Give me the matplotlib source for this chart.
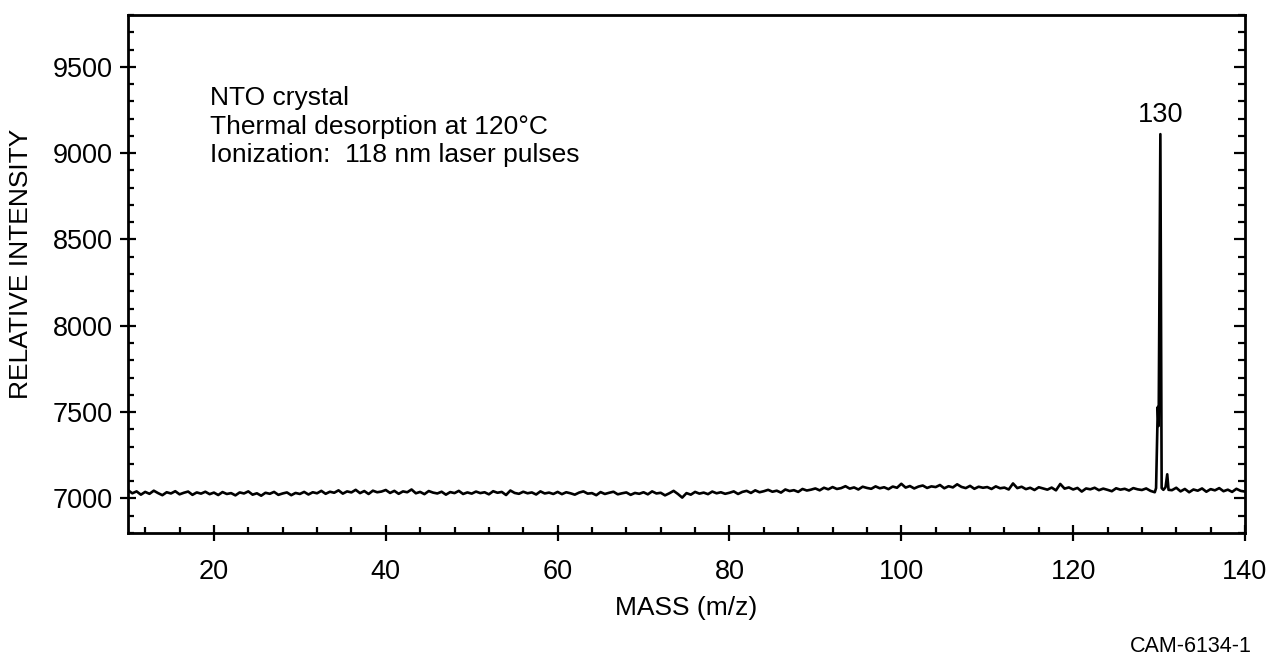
import matplotlib
matplotlib.use("Agg")
import matplotlib.pyplot as plt
from matplotlib.ticker import MultipleLocator
import numpy as np

plt.rcParams['font.family'] = ['Liberation Sans', 'DejaVu Sans']

# baseline trace at 0.5 m/z steps (10 .. 129.5)
mass_lo = np.arange(10, 130, 0.5)
inten_lo = [
    7048, 7030, 7041, 7022, 7038, 7027, 7045, 7031, 7019, 7036, 7029, 7042, 7024, 7033, 7040, 7021, 7035, 7028, 7039, 7025,
    7034, 7020, 7037, 7026, 7031, 7018, 7035, 7029, 7041, 7022, 7030, 7016, 7033, 7027, 7038, 7021, 7029, 7035, 7019, 7032,
    7026, 7038, 7023, 7036, 7030, 7044, 7027, 7039, 7033, 7047, 7028, 7041, 7035, 7050, 7031, 7043, 7026, 7045, 7036, 7040,
    7049, 7032, 7044, 7027, 7041, 7036, 7052, 7030, 7038, 7025, 7043, 7034, 7029, 7039, 7022, 7037, 7031, 7044, 7026, 7035,
    7028, 7040, 7031, 7036, 7024, 7042, 7033, 7038, 7020, 7046, 7032, 7027, 7039, 7030, 7035, 7023, 7041, 7029, 7034, 7026,
    7038, 7025, 7036, 7030, 7022, 7034, 7041, 7028, 7031, 7019, 7037, 7026, 7033, 7039, 7024, 7030, 7035, 7021, 7032, 7027,
    7036, 7024, 7041, 7029, 7033, 7018, 7030, 7044, 7026, 7005, 7031, 7022, 7038, 7028, 7034, 7025, 7040, 7030, 7036, 7027,
    7033, 7041, 7026, 7038, 7044, 7032, 7047, 7036, 7042, 7050, 7039, 7045, 7034, 7052, 7043, 7048, 7038, 7055, 7046, 7051,
    7058, 7047, 7062, 7053, 7066, 7055, 7060, 7071, 7057, 7064, 7052, 7068, 7061, 7056, 7070, 7059, 7065, 7054, 7069, 7062,
    7085, 7063, 7072, 7058, 7069, 7075, 7061, 7070, 7066, 7078, 7059, 7071, 7064, 7082, 7067, 7060, 7073, 7056, 7068, 7062,
    7066, 7055, 7070, 7059, 7063, 7052, 7087, 7060, 7068, 7054, 7062, 7049, 7065, 7058, 7051, 7063, 7047, 7084, 7057, 7064,
    7052, 7061, 7040, 7058, 7053, 7062, 7048, 7057, 7050, 7042, 7059, 7051, 7056, 7046, 7060, 7053, 7049, 7058, 7044, 7036,
]

# the m/z 130 peak
mass_pk = [129.65, 129.85, 129.95, 130.15, 130.3, 130.5, 130.75, 130.95, 131.1]
inten_pk = [7060, 7530, 7420, 9110, 7060, 7050, 7065, 7140, 7050]

# tail after the peak
mass_hi = np.arange(131.5, 140.01, 0.5)
inten_hi = [7048, 7062, 7041, 7055, 7036, 7052, 7045, 7058, 7039,
            7054, 7047, 7060, 7042, 7051, 7038, 7056, 7044, 7040]

mass = np.concatenate([mass_lo, mass_pk, mass_hi])
inten = np.concatenate([inten_lo, inten_pk, inten_hi])

peak_mass = 130.15
peak_label = '130'
notes = ['NTO crystal', 'Thermal desorption at 120\u00b0C', 'Ionization:  118 nm laser pulses']

fig = plt.figure(figsize=(12.66, 6.58), dpi=100)
ax = fig.add_axes([128 / 1266, 1 - 533 / 658, 1117 / 1266, 518 / 658])

ax.plot(mass, inten, color='black', lw=1.9)

ax.set_xlim(10, 140)
ax.set_ylim(6800, 9800)
ax.xaxis.set_major_locator(MultipleLocator(20))
ax.xaxis.set_minor_locator(MultipleLocator(4))
ax.yaxis.set_major_locator(MultipleLocator(500))
ax.yaxis.set_minor_locator(MultipleLocator(100))

for s in ax.spines.values():
    s.set_linewidth(2.0)

ax.tick_params(axis='both', which='major', direction='inout', length=12, width=1.6,
               labelsize=19.5)
ax.tick_params(axis='both', which='minor', direction='in', length=4, width=1.6)
ax.tick_params(axis='x', which='major', pad=13)
ax.tick_params(axis='y', which='major', pad=5)

# right-hand ticks point inward only
axr = ax.twinx()
axr.set_ylim(ax.get_ylim())
axr.yaxis.set_major_locator(MultipleLocator(500))
axr.yaxis.set_minor_locator(MultipleLocator(100))
axr.tick_params(axis='y', which='major', direction='in', length=8, width=1.6, labelright=False)
axr.tick_params(axis='y', which='minor', direction='in', length=5, width=1.6)
for s in axr.spines.values():
    s.set_visible(False)

ax.set_xlabel('MASS (m/z)', fontsize=19)
ax.set_ylabel('RELATIVE INTENSITY', fontsize=19)
ax.xaxis.set_label_coords(0.5, -0.122)
ax.yaxis.set_label_coords(-0.085, 0.52)

ax.text(0.0734, 0.862, '\n'.join(notes), transform=ax.transAxes, fontsize=19,
        va='top', ha='left', linespacing=1.22)
ax.text(peak_mass, 9220, peak_label, fontsize=19.5, ha='center', va='center')

fig.text(1252 / 1266, 1 - 646 / 658, 'CAM-6134-1', fontsize=15.5, ha='right', va='center')

fig.savefig('out.png', dpi=100)
